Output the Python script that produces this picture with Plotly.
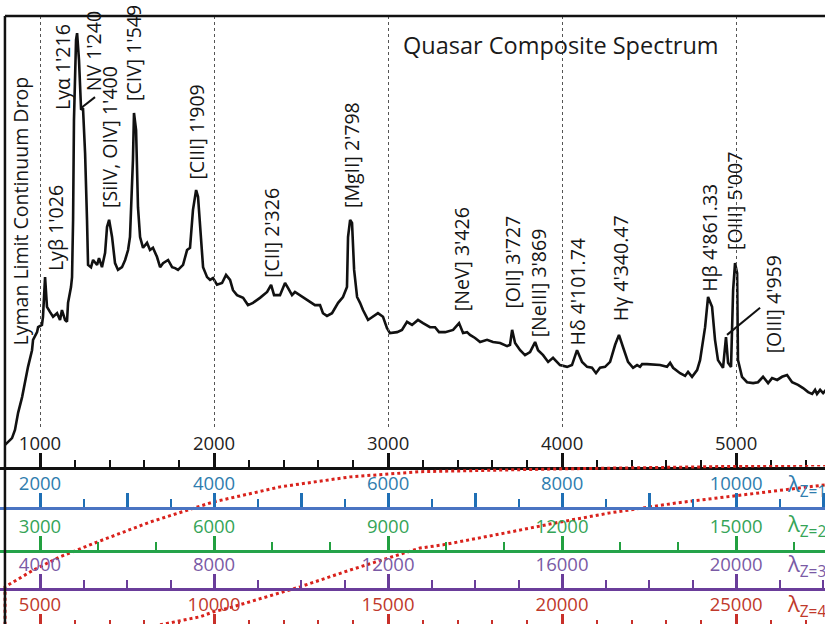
import plotly.graph_objects as go

# ---------------- data ----------------
rest_wavelength = [799,839,856,874,897,914,931,954,960,983,
989,1011,1017,1029,1040,1057,1075,1098,1115,1126,
1144,1155,1161,1178,1184,1190,1195,1207,1213,1224,
1236,1247,1259,1270,1276,1293,1305,1328,1339,1356,
1374,1385,1397,1414,1431,1448,1471,1489,1506,1517,
1534,1540,1552,1563,1575,1592,1615,1632,1649,1672,
1690,1707,1736,1759,1776,1793,1822,1845,1862,1879,
1897,1908,1925,1937,1960,1977,1994,2017,2046,2069,
2092,2109,2132,2167,2195,2224,2264,2305,2328,2345,
2379,2408,2425,2448,2465,2511,2552,2580,2609,2626,
2649,2678,2713,2741,2764,2770,2782,2793,2805,2822,
2839,2856,2885,2914,2942,2971,2994,3011,3052,3080,
3109,3138,3172,3201,3241,3270,3293,3328,3374,3408,
3431,3454,3471,3500,3529,3569,3603,3644,3684,3701,
3713,3730,3759,3787,3816,3845,3862,3891,3920,3948,
3988,4029,4057,4086,4115,4144,4172,4195,4218,4247,
4276,4305,4327,4350,4379,4408,4431,4448,4460,4488,
4563,4603,4621,4638,4678,4707,4724,4747,4776,4793,
4822,4839,4862,4879,4896,4925,4942,4954,4971,4983,
4994,5006,5011,5034,5063,5098,5126,5155,5184,5207,
5236,5264,5293,5322,5356,5385,5414,5437,5454,5465,
5483,5500,5517]

flux = [4.9,6.4,8.2,12.0,15.5,19.3,22.2,25.9,28.2,29.9,
31.0,31.5,33.3,42.1,35.5,34.4,33.3,34.1,32.6,34.8,
32.6,32.2,36.4,39.9,42.1,54.8,76.9,94.7,96.2,90.2,
79.2,79.6,69.6,54.8,44.8,44.3,45.9,44.8,46.3,44.3,
47.5,53.2,54.8,51.0,45.2,43.7,44.3,45.9,48.1,51.0,
68.1,78.5,74.7,57.6,51.0,48.6,49.7,48.1,48.6,46.6,
44.3,45.2,45.9,44.3,44.1,43.7,44.8,48.1,48.6,57.0,
61.4,59.9,51.0,44.3,42.1,41.5,41.9,40.4,40.8,42.6,
41.5,39.2,38.1,37.5,35.9,36.4,37.5,38.8,40.4,38.1,
38.1,40.8,39.7,38.1,38.8,37.7,36.6,35.9,35.9,34.1,
33.5,34.1,36.4,37.7,39.9,51.0,54.8,54.1,43.7,37.7,
36.4,34.8,32.6,33.3,34.1,33.3,30.8,29.7,29.9,30.4,
32.2,31.5,32.6,31.9,31.0,31.0,29.9,29.9,30.4,31.9,
29.7,29.9,29.3,28.6,27.7,28.2,27.7,27.5,26.8,27.1,
30.4,27.5,25.9,24.8,25.5,27.7,25.9,24.8,23.3,24.2,
22.6,22.2,22.6,25.9,23.3,22.2,22.0,20.8,22.0,22.2,
23.3,27.1,29.3,26.6,23.3,22.0,22.6,22.2,22.8,22.8,
22.6,22.2,23.1,22.0,20.8,20.2,21.1,20.0,21.5,23.7,
31.0,37.7,35.5,28.2,23.7,22.0,28.8,23.1,22.2,39.2,
45.2,43.0,23.7,20.0,18.8,18.6,18.8,20.0,18.6,19.7,
19.3,20.0,20.4,18.8,18.2,17.5,16.6,16.2,17.1,16.2,
17.1,16.4,17.1]

line_labels = ["Lyman Limit Continuum Drop", "Lyβ 1'026", "Lyα 1'216", "NV 1'240",
               "[SiIV, OIV] 1'400", "[CIV] 1'549", "[CIII] 1'909", "[CII] 2'326",
               "[MgII] 2'798", "[NeV] 3'426", "[OII] 3'727", "[NeIII] 3'869",
               "Hδ 4'101.74", "Hγ 4'340.47", "Hβ 4'861.33", "[OIII] 5'007", "[OIII] 4'959"]
label_wavelength = [885, 1086, 1126, 1305, 1402, 1534, 1897, 2333, 2793, 3419, 3718, 3862,
                    4086, 4333, 4850, 4994, 5213]
label_flux = [26.4, 43.0, 78.7, 82.9, 57.0, 80.7, 63.2, 41.5, 57.0, 34.1, 34.8, 28.2,
              26.4, 31.9, 38.4, 47.7, 24.8]

# leader lines: (wavelength pair, flux pair)
nv_leader_wavelength = [1236, 1316]
nv_leader_flux = [79.6, 82.0]
oiii_leader_wavelength = [4948, 5138]
oiii_leader_flux = [29.3, 35.3]

grid_wavelength = [1000, 2000, 3000, 4000, 5000]

redshifts = [1, 2, 3, 4]
row_label_step = [2000, 3000, 4000, 5000]
row_major_step = [1000, 3000, 4000, 5000]
row_minor_step = [500, 1000, 1000, 1000]

curve_a_wavelength = [799, 799, 799, 885, 954, 1115, 1328, 1632, 1994, 2379, 2782, 3184, 3988, 4793, 5511]
curve_a_z = [3.95, 3.45, 3.0, 2.78, 2.6, 2.25, 1.88, 1.38, 0.88, 0.5, 0.25, 0.12, 0.05, 0.0, -0.05]
curve_b_wavelength = [1690, 1919, 1994, 2109, 2494, 2782, 3184, 3316, 3701, 3988, 4276, 4661, 5040, 5511]
curve_b_z = [3.95, 3.75, 3.63, 3.5, 3.0, 2.58, 2.03, 1.95, 1.63, 1.38, 1.15, 0.9, 0.7, 0.45]

title_text = "Quasar Composite Spectrum"

# ---------------- style ----------------
REST_RANGE = [770, 5511]
FONT = "Open Sans"
row_line_colors = ["#4a74c2", "#25a34a", "#6a3d9a", "#c8302a"]
row_tick_colors = ["#1f6fb5", "#22a040", "#6a3d9a", "#c8302a"]
row_text_colors = ["#2f7dae", "#35a457", "#7a5aa5", "#c0392b"]
row_domains = [[0.1875, 0.2516], [0.1186, 0.1875], [0.0577, 0.1186], [0.0, 0.0577]]
SPEC_DOMAIN = [0.2516, 0.9744]
GRID_DOMAIN = [0.3141, 0.9744]

fig = go.Figure()

# grid subplot (dotted verticals)
fig.add_trace(go.Scatter(x=[], y=[], xaxis="x7", yaxis="y7", showlegend=False, hoverinfo="skip"))

# spectrum
fig.add_trace(go.Scatter(x=rest_wavelength, y=flux, mode="lines",
                         line=dict(color="#111111", width=2.6), showlegend=False, hoverinfo="skip"))
for wl, fl in [(nv_leader_wavelength, nv_leader_flux), (oiii_leader_wavelength, oiii_leader_flux)]:
    fig.add_trace(go.Scatter(x=wl, y=fl, mode="lines", line=dict(color="#111111", width=2),
                             showlegend=False, hoverinfo="skip"))

# empty traces to create the redshift row subplots
for i in range(4):
    fig.add_trace(go.Scatter(x=[], y=[], xaxis=f"x{i+2}", yaxis=f"y{i+2}", showlegend=False, hoverinfo="skip"))

# red dotted curves in lower panel
for cx, cz in [(curve_a_wavelength, curve_a_z), (curve_b_wavelength, curve_b_z)]:
    fig.add_trace(go.Scatter(x=cx, y=cz, xaxis="x", yaxis="y6", mode="lines",
                             line=dict(color="#d9221c", width=3, dash="dot"),
                             showlegend=False, hoverinfo="skip"))

layout = dict(
    width=825, height=624, margin=dict(l=0, r=0, t=0, b=0),
    paper_bgcolor="white", plot_bgcolor="rgba(0,0,0,0)",
    font=dict(family=FONT, color="#222222"),
    xaxis=dict(domain=[0, 1], range=REST_RANGE, anchor="y", showgrid=False, zeroline=False,
               showline=True, linecolor="#111111", linewidth=3,
               ticks="inside", ticklen=14, tickwidth=2.5, tickcolor="#111111",
               tickmode="linear", tick0=0, dtick=1000,
               ticklabelposition="inside", ticklabeloverflow="allow",
               tickfont=dict(size=18.5, color="#222222", family=FONT),
               minor=dict(ticks="inside", tick0=0, dtick=200, ticklen=7, tickwidth=2, tickcolor="#111111",
                          showgrid=False)),
    yaxis=dict(domain=SPEC_DOMAIN, range=[0, 100], visible=False, anchor="x"),
    yaxis6=dict(domain=[0, 0.255], range=[3.93, -0.05], visible=False, anchor="x"),
    xaxis7=dict(domain=[0, 1], range=REST_RANGE, anchor="y7", showgrid=True, gridcolor="#555555",
                griddash="dot", gridwidth=1.4, tickmode="array", tickvals=grid_wavelength,
                showticklabels=False, ticks="", zeroline=False, showline=False),
    yaxis7=dict(domain=GRID_DOMAIN, range=[0, 1], visible=False, anchor="x7"),
)

for i, z in enumerate(redshifts):
    lo = REST_RANGE[0] * (1 + z)
    hi = REST_RANGE[1] * (1 + z)
    first = row_label_step[i]
    tv = list(range(first, int(hi) + 1, row_major_step[i]))
    tt = [str(v) if v % row_label_step[i] == 0 else "" for v in tv]
    last = (i == 3)
    layout[f"xaxis{i+2}"] = dict(
        domain=[0, 1], range=[lo, hi], anchor=f"y{i+2}", showgrid=False, zeroline=False,
        showline=not last, linecolor=row_line_colors[i], linewidth=2.5,
        ticks="inside", ticklen=10 if last else 14, tickwidth=2.5, tickcolor=row_tick_colors[i],
        tickmode="array", tickvals=tv, ticktext=tt,
        ticklabelposition="inside", ticklabeloverflow="allow",
        tickfont=dict(size=18.5, color=row_text_colors[i], family=FONT),
        minor=dict(ticks="inside", tick0=0, dtick=row_minor_step[i], ticklen=4 if last else 8,
                   tickwidth=2, tickcolor=row_tick_colors[i], showgrid=False))
    layout[f"yaxis{i+2}"] = dict(domain=row_domains[i], range=[0, 1], visible=False, anchor=f"x{i+2}")

fig.update_layout(**layout)

annotations = []
for txt, wl, fl in zip(line_labels, label_wavelength, label_flux):
    annotations.append(dict(x=wl, y=fl, xref="x", yref="y", text=txt, textangle=-90,
                            xanchor="center", yanchor="bottom", showarrow=False,
                            font=dict(size=19.5, color="#151515", family=FONT)))
annotations.append(dict(x=3994, y=93.6, xref="x", yref="y", text=title_text, showarrow=False,
                        xanchor="center", yanchor="middle",
                        font=dict(size=23.5, color="#1a1a1a", family=FONT)))
lam_colors = ["#111111"] + row_text_colors
for z, col in zip([0] + redshifts, lam_colors):
    annotations.append(dict(x=5280, y=z - 0.55, xref="x", yref="y6", text=f"λ<sub>Z={z}</sub>",
                            showarrow=False, xanchor="left", yanchor="middle",
                            font=dict(size=22, color=col, family=FONT)))
fig.update_layout(annotations=annotations)

fig.update_layout(shapes=[
    dict(type="line", xref="paper", yref="paper", x0=0.006, x1=1, y0=SPEC_DOMAIN[1], y1=SPEC_DOMAIN[1],
         line=dict(color="#111111", width=2.5)),
    dict(type="line", xref="paper", yref="paper", x0=0.006, x1=0.006, y0=0, y1=SPEC_DOMAIN[1],
         line=dict(color="#111111", width=2.5)),
])

fig.write_html("out.html")
